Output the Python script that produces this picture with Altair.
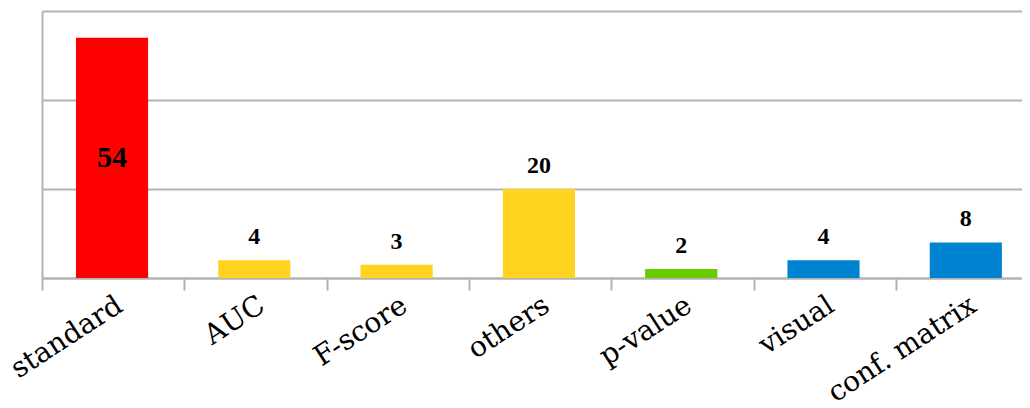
import altair as alt
import pandas as pd

categories = ["standard", "AUC", "F-score", "others", "p-value", "visual", "conf. matrix"]
values = [54, 4, 3, 20, 2, 4, 8]
colors = ["#FF0000", "#FFD320", "#FFD320", "#FFD320", "#66CC00", "#0084D1", "#0084D1"]

df = pd.DataFrame({"category": categories, "value": values, "color": colors})

x = alt.X("category:N", sort=categories, title=None,
          scale=alt.Scale(paddingInner=0.493, paddingOuter=0.19, align=0.628, round=False),
          axis=alt.Axis(labelAngle=-33, labelAlign="right", labelBaseline="top",
                        labelFont="DejaVu Serif", labelFontSize=28, labelColor="#000000",
                        labelPadding=1, tickSize=12, tickWidth=2, tickColor="#b3b3b3",
                        tickOffset=-70, labelOffset=70,
                        domainColor="#b3b3b3", domainWidth=2,
                        grid=False))
y = alt.Y("value:Q", title=None,
          scale=alt.Scale(domain=[0, 60], nice=False),
          axis=alt.Axis(values=[0, 20, 40, 60], labels=False, ticks=False,
                        grid=True, gridColor="#b3b3b3", gridWidth=2,
                        domainColor="#b3b3b3", domainWidth=2))

base = alt.Chart(df)

bars = base.mark_bar().encode(
    x=x, y=y,
    color=alt.Color("color:N", scale=None, legend=None),
)

labels_top = base.transform_filter("datum.value < 30").mark_text(
    font="Liberation Serif", fontWeight="bold", fontSize=24, dy=-16,
    baseline="alphabetic", color="#000000"
).encode(x=x, y=y, text="value:Q")

labels_mid = base.transform_filter("datum.value >= 30").transform_calculate(
    mid="datum.value / 2"
).mark_text(
    font="Liberation Serif", fontWeight="bold", fontSize=30,
    baseline="middle", color="#000000"
).encode(x=x, y=alt.Y("mid:Q", scale=alt.Scale(domain=[0, 60], nice=False)), text="value:Q")

chart = alt.layer(bars, labels_top, labels_mid).properties(
    width=980, height=267,
    padding={"left": 34, "top": 3, "right": 0, "bottom": 130},
    autosize=alt.AutoSizeParams(type="none"),
).configure_view(stroke=None).configure(background="white")

chart.save("out.html", embed_options={"renderer": "svg", "actions": False})
